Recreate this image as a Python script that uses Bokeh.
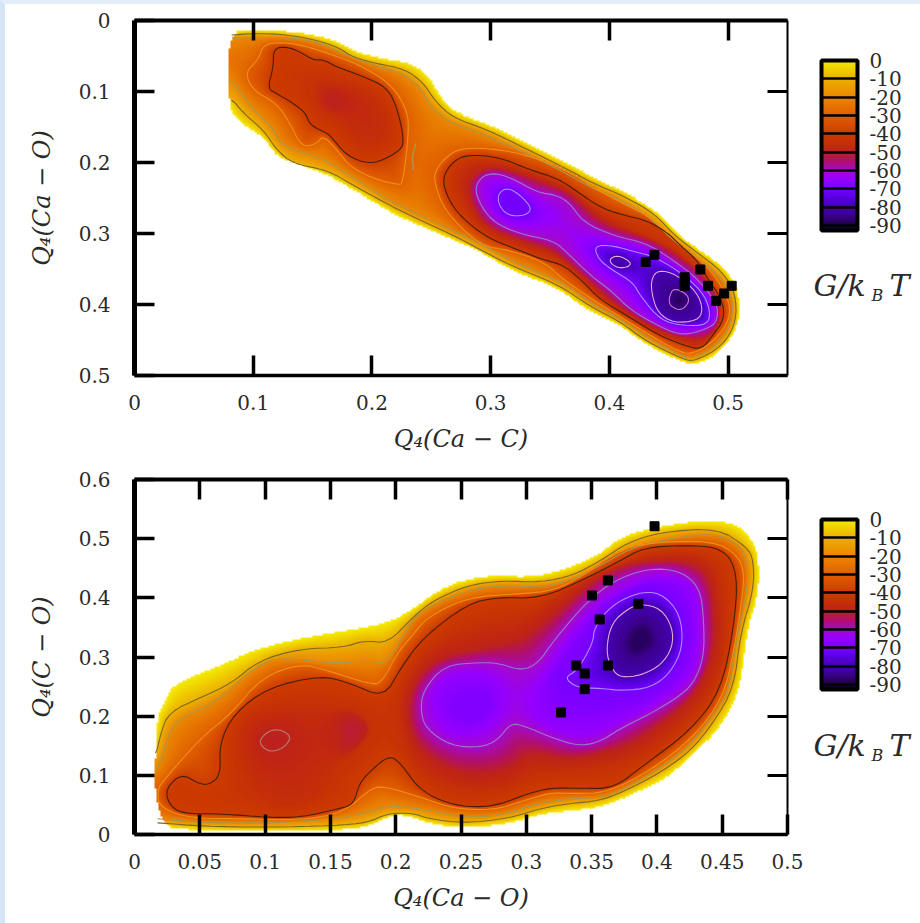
import numpy as np
from bokeh.embed import file_html
from bokeh.resources import INLINE
from bokeh.layouts import column
from bokeh.models import (AllLabels, ColorBar, FixedTicker, LinearAxis, LinearColorMapper, Range1d)
from bokeh.plotting import figure

# ---------- tick labels ----------
TOP_X_TICKS = [0, 0.1, 0.2, 0.3, 0.4, 0.5]
TOP_X_LABELS = ["0", "0.1", "0.2", "0.3", "0.4", "0.5"]
TOP_Y_TICKS = [0, 0.1, 0.2, 0.3, 0.4, 0.5]
TOP_Y_LABELS = ["0", "0.1", "0.2", "0.3", "0.4", "0.5"]
BOT_X_TICKS = [0, 0.05, 0.1, 0.15, 0.2, 0.25, 0.3, 0.35, 0.4, 0.45, 0.5]
BOT_X_LABELS = ["0", "0.05", "0.1", "0.15", "0.2", "0.25", "0.3", "0.35", "0.4", "0.45", "0.5"]
BOT_Y_TICKS = [0, 0.1, 0.2, 0.3, 0.4, 0.5, 0.6]
BOT_Y_LABELS = ["0", "0.1", "0.2", "0.3", "0.4", "0.5", "0.6"]
CB_TICKS = [0, -10, -20, -30, -40, -50, -60, -70, -80, -90]
CB_LABELS = ["0", "-10", "-20", "-30", "-40", "-50", "-60", "-70", "-80", "-90"]

# ---------- black squares ----------
TOP_SQ_X = [.4306, .4379, .4766, .4634, .4634, .4634, .4831, .503, .4966, .4898]
TOP_SQ_Y = [.340, .330, .3507, .3615, .3676, .3737, .3737, .3737, .3845, .3948]
BOT_SQ_X = [.3982, .3625, .3503, .3858, .3562, .3383, .3625, .3447, .3447, .3266]
BOT_SQ_Y = [.521, .4293, .4039, .3899, .3634, .2856, .2856, .2721, .2456, .2062]

# ---------- top panel contours (G/kBT levels) ----------
T0_X = [.079,.079,.100,.129,.154,.173,.188,.210,.235,.249,.260,.275,.300,.333,.367,.390,.415,.440,.457,.477,.498,.509,.510,.493,.472,.462,.429,.407,.381,.356,.317,.294,.266,.224,.205,.184,.163,.140,.120,.109,.089]
T0_Y = [.123,.017,.013,.015,.021,.031,.045,.054,.061,.080,.113,.134,.148,.176,.204,.225,.244,.268,.300,.324,.349,.380,.427,.469,.485,.482,.455,.427,.408,.376,.352,.328,.306,.277,.258,.239,.218,.204,.193,.165,.145]
T10_X = [.079,.100,.129,.154,.173,.184,.205,.227,.243,.253,.268,.296,.329,.363,.386,.413,.438,.455,.474,.494,.506,.507,.495,.472,.462,.431,.409,.384,.357,.318,.296,.268,.226,.205,.184,.163,.134,.120,.109,.092,.081,.060,.060]
T10_Y = [.021,.018,.020,.028,.039,.052,.061,.068,.087,.113,.137,.153,.180,.208,.229,.248,.272,.303,.327,.352,.382,.425,.459,.480,.477,.452,.424,.403,.372,.346,.327,.302,.270,.251,.232,.211,.202,.183,.155,.131,.108,.108,.021]
T20_X = [.079,.103,.134,.157,.179,.201,.224,.241,.249,.266,.291,.325,.359,.384,.411,.434,.451,.470,.490,.503,.504,.492,.472,.461,.433,.409,.385,.359,.321,.297,.268,.226,.205,.184,.157,.125,.115,.095,.079,.060,.060]
T20_Y = [.025,.024,.024,.032,.049,.063,.073,.094,.122,.144,.158,.183,.211,.235,.254,.277,.306,.330,.355,.384,.423,.456,.476,.473,.448,.420,.399,.367,.342,.319,.296,.263,.244,.221,.193,.179,.148,.117,.077,.077,.025]
T20_TONGUE_X = [.237, .234, .235]
T20_TONGUE_Y = [.173, .192, .211]
T30A_X = [.093,.104,.109,.129,.148,.168,.190,.216,.230,.231,.226,.222,.205,.182,.171,.159,.154,.141,.131,.120,.100]
T30A_Y = [.073,.056,.032,.031,.038,.049,.063,.089,.127,.159,.230,.231,.225,.207,.183,.162,.173,.179,.145,.117,.099]
T30B_X = [.253,.264,.275,.300,.333,.367,.390,.418,.435,.450,.468,.487,.500,.502,.488,.471,.460,.435,.403,.384,.359,.346,.317,.291,.262,.253]
T30B_Y = [.211,.190,.180,.180,.190,.214,.239,.263,.277,.303,.324,.355,.390,.420,.452,.469,.468,.444,.411,.391,.362,.341,.324,.317,.270,.232]
T40A_X = [.112,.117,.117,.129,.140,.151,.159,.171,.190,.213,.222,.227,.224,.205,.193,.179,.168,.163,.148,.144,.134,.120]
T40A_Y = [.096,.066,.039,.037,.045,.056,.055,.066,.077,.094,.127,.169,.183,.200,.200,.190,.169,.159,.148,.130,.117,.103]
T40B_X = [.259,.268,.280,.306,.331,.357,.373,.392,.409,.432,.449,.460,.474,.482,.495,.497,.487,.477,.462,.441,.415,.392,.376,.361,.344,.323,.297,.275,.264]
T40B_Y = [.222,.199,.189,.192,.209,.223,.241,.263,.273,.282,.299,.317,.338,.362,.393,.420,.444,.464,.457,.443,.416,.393,.365,.344,.337,.323,.306,.277,.251]
T45A_X = [.151,.168,.196,.214,.213,.196,.184,.171,.154]
T45A_Y = [.089,.085,.099,.131,.165,.179,.159,.137,.123]
T45B_X = [.270,.280,.306,.329,.356,.374,.393,.422,.449,.470,.488,.494,.485,.472,.468,.441,.416,.393,.373,.355,.323,.296,.279]
T45B_Y = [.225,.200,.199,.212,.228,.246,.272,.297,.315,.345,.395,.423,.447,.459,.456,.443,.417,.392,.358,.332,.317,.298,.267]
T50A_X = [.161,.169,.178,.173,.163]
T50A_Y = [.106,.103,.113,.124,.123]
T50B_X = [.280,.291,.306,.328,.357,.376,.395,.432,.457,.479,.493,.493,.483,.468,.443,.418,.395,.371,.352,.323,.294,.283]
T50B_Y = [.230,.211,.207,.218,.235,.254,.285,.305,.328,.356,.394,.427,.448,.449,.438,.414,.387,.349,.324,.308,.289,.256]
T60_X = [.300,.317,.339,.356,.367,.378,.403,.432,.454,.474,.491,.491,.483,.462,.443,.418,.401,.384,.365,.353,.323,.300,.287,.289]
T60_Y = [.214,.221,.242,.246,.258,.284,.303,.314,.338,.363,.399,.423,.434,.444,.432,.408,.380,.359,.328,.310,.300,.282,.246,.225]
T70A_X = [.306,.314,.325,.335,.329,.315,.307]
T70A_Y = [.244,.235,.246,.265,.275,.275,.261]
T70B_X = [.387,.403,.424,.435,.457,.478,.485,.483,.462,.443,.426,.420,.403,.391]
T70B_Y = [.317,.317,.327,.331,.351,.381,.408,.429,.430,.422,.388,.369,.352,.337]
T80A_X = [.399,.407,.419,.415,.405]
T80A_Y = [.337,.330,.341,.348,.348]
T80B_X = [.435,.441,.457,.474,.479,.474,.454,.441,.436]
T80B_Y = [.365,.351,.358,.383,.408,.423,.426,.412,.388]
T85_X = [.450,.454,.466,.467,.460,.451]
T85_Y = [.391,.376,.386,.398,.409,.402]

# ---------- bottom panel contours ----------
B0_X = [.016,.016,.023,.030,.061,.091,.127,.166,.194,.213,.229,.250,.275,.306,.332,.355,.370,.393,.433,.459,.472,.478,.478,.469,.464,.449,.428,.408,.382,.357,.336,.311,.288,.252,.225,.214,.199,.179,.153,.102,.051]
B0_Y = [.012,.188,.226,.255,.282,.311,.331,.345,.357,.379,.407,.429,.438,.434,.450,.472,.500,.517,.531,.527,.502,.468,.407,.345,.248,.181,.137,.096,.069,.046,.041,.035,.019,.010,.019,.029,.035,.012,.007,.005,.007]
B10_X = [.016,.020,.026,.051,.074,.095,.127,.160,.176,.194,.213,.229,.255,.280,.311,.336,.357,.378,.403,.446,.469,.474,.474,.464,.459,.443,.426,.405,.380,.357,.331,.311,.286,.252,.224,.214,.194,.179,.153,.102,.051,.018,.005,.005]
B10_Y = [.130,.170,.206,.232,.255,.294,.314,.316,.328,.323,.367,.396,.421,.429,.426,.438,.463,.494,.511,.518,.486,.463,.413,.340,.248,.188,.142,.108,.078,.057,.052,.044,.027,.019,.027,.036,.036,.020,.015,.012,.014,.020,.020,.130]
B20_X = [.016,.020,.030,.061,.095,.114,.153,.179,.194,.211,.224,.255,.280,.311,.334,.357,.380,.411,.446,.465,.470,.469,.461,.455,.446,.426,.400,.372,.357,.334,.307,.280,.250,.223,.198,.183,.160,.102,.051,.018,.005,.005]
B20_Y = [.105,.125,.193,.221,.289,.299,.289,.294,.289,.358,.384,.413,.421,.418,.429,.455,.484,.501,.509,.487,.451,.409,.328,.243,.210,.151,.108,.074,.062,.061,.051,.032,.029,.042,.049,.041,.027,.019,.020,.027,.027,.105]
B30_X = [.018,.020,.051,.074,.097,.127,.148,.179,.189,.201,.214,.224,.255,.296,.321,.344,.367,.390,.443,.462,.467,.465,.459,.451,.428,.395,.362,.336,.319,.298,.275,.244,.219,.189,.179,.160,.127,.076,.051,.030,.018]
B30_Y = [.074,.086,.164,.204,.265,.289,.277,.255,.255,.306,.340,.367,.401,.407,.412,.438,.475,.493,.497,.472,.441,.395,.311,.232,.164,.108,.071,.069,.071,.057,.041,.044,.063,.083,.074,.037,.024,.027,.027,.035,.052]
B40_X = [.024,.036,.049,.057,.066,.065,.076,.102,.143,.166,.191,.204,.221,.255,.278,.311,.347,.372,.390,.423,.451,.462,.459,.449,.426,.390,.367,.341,.319,.301,.278,.255,.234,.217,.204,.195,.181,.172,.168,.158,.127,.102,.066,.036,.026]
B40_Y = [.078,.103,.086,.084,.100,.154,.204,.248,.269,.255,.231,.282,.333,.390,.401,.399,.434,.463,.485,.489,.484,.441,.350,.243,.176,.117,.078,.078,.079,.069,.049,.046,.057,.079,.120,.134,.108,.086,.052,.044,.029,.029,.035,.035,.052]
B45A_X = [.080,.087,.117,.153,.173,.182,.168,.153,.148,.137,.114,.097,.084]
B45A_Y = [.159,.204,.221,.215,.210,.176,.137,.120,.091,.057,.046,.063,.108]
B45B_X = [.200,.209,.227,.260,.296,.330,.357,.395,.426,.446,.453,.450,.439,.416,.388,.357,.332,.303,.288,.269,.242,.212]
B45B_Y = [.210,.269,.316,.353,.362,.412,.446,.475,.477,.460,.362,.294,.235,.181,.134,.112,.108,.105,.083,.074,.079,.117]
B50A_X = [.094,.107,.121,.114,.102]
B50A_Y = [.159,.181,.167,.145,.139]
B50C_X = [.156,.173,.181,.168,.156]
B50C_Y = [.204,.201,.176,.142,.142]
B50B_X = [.208,.214,.232,.265,.296,.321,.347,.372,.397,.423,.441,.445,.443,.428,.405,.380,.357,.332,.303,.290,.270,.247,.217]
B50B_Y = [.204,.260,.299,.314,.328,.373,.424,.455,.463,.463,.441,.362,.299,.232,.188,.150,.137,.125,.139,.113,.100,.103,.142]
B60_X = [.219,.221,.237,.265,.280,.296,.309,.321,.347,.367,.393,.418,.433,.436,.436,.428,.416,.395,.372,.355,.339,.319,.298,.288,.278,.265,.242,.223]
B60_Y = [.210,.243,.286,.291,.289,.277,.289,.328,.395,.429,.450,.446,.417,.362,.299,.255,.232,.204,.179,.155,.150,.164,.184,.188,.159,.147,.150,.179]
B65A_X = [.228,.232,.247,.273,.284,.275,.252,.237]
B65A_Y = [.226,.255,.274,.274,.232,.188,.167,.181]
B65B_X = [.301,.307,.324,.349,.372,.395,.418,.430,.431,.430,.420,.395,.372,.349,.330,.311]
B65B_Y = [.218,.252,.303,.375,.412,.433,.433,.409,.353,.294,.255,.218,.193,.171,.172,.189]
B68A_X = [.242,.254,.269,.273,.264,.250]
B68A_Y = [.221,.243,.240,.218,.193,.193]
B68B_X = [.315,.330,.349,.368,.391,.411,.424,.426,.414,.395,.372,.349,.326]
B68B_Y = [.260,.303,.362,.404,.426,.421,.379,.311,.260,.232,.218,.206,.213]
B70_X = [.329,.339,.351,.352,.365,.385,.403,.418,.420,.410,.395,.374,.357,.339]
B70_Y = [.265,.277,.323,.350,.387,.409,.409,.373,.316,.272,.248,.243,.247,.248]
B80_X = [.361,.365,.378,.388,.403,.412,.412,.403,.388,.372,.365]
B80_Y = [.311,.357,.382,.390,.382,.350,.316,.286,.269,.265,.281]
B85_X = [.374,.380,.393,.400,.397,.384,.376]
B85_Y = [.324,.353,.362,.333,.311,.297,.306]

TOP_LEVELS = [
    (0, [(T0_X, T0_Y)]), (-10, [(T10_X, T10_Y)]), (-20, [(T20_X, T20_Y)]),
    (-30, [(T30A_X, T30A_Y), (T30B_X, T30B_Y)]), (-40, [(T40A_X, T40A_Y), (T40B_X, T40B_Y)]),
    (-45, [(T45A_X, T45A_Y), (T45B_X, T45B_Y)]), (-50, [(T50A_X, T50A_Y), (T50B_X, T50B_Y)]),
    (-60, [(T60_X, T60_Y)]), (-70, [(T70A_X, T70A_Y), (T70B_X, T70B_Y)]),
    (-80, [(T80A_X, T80A_Y), (T80B_X, T80B_Y)]), (-85, [(T85_X, T85_Y)]),
]
BOT_LEVELS = [
    (0, [(B0_X, B0_Y)]), (-10, [(B10_X, B10_Y)]), (-20, [(B20_X, B20_Y)]),
    (-30, [(B30_X, B30_Y)]), (-40, [(B40_X, B40_Y)]),
    (-45, [(B45A_X, B45A_Y), (B45B_X, B45B_Y)]),
    (-50, [(B50A_X, B50A_Y), (B50C_X, B50C_Y), (B50B_X, B50B_Y)]),
    (-60, [(B60_X, B60_Y)]), (-65, [(B65A_X, B65A_Y), (B65B_X, B65B_Y)]),
    (-68, [(B68A_X, B68A_Y), (B68B_X, B68B_Y)]), (-70, [(B70_X, B70_Y)]),
    (-80, [(B80_X, B80_Y)]), (-85, [(B85_X, B85_Y)]),
]
TOP_LINES = {-10: "#7a6a20", -20: "#a8984a", -30: "#f08f14", -40: "#4a1e08",
             -60: "#9a78c4", -70: "#a98cff", -80: "#e8a8d8", -85: "#c878c0"}
BOT_LINES = {-10: "#7a6a20", -20: "#a8984a", -30: "#f08f14", -40: "#4a1e08",
             -60: "#9a78c4", -70: "#a98cff", -80: "#e8a8d8"}

# colour scale stops: value, r, g, b
STOP_V = [-93, -90, -85, -80, -75, -70, -65, -60, -55, -50, -45, -40, -30, -20, -10, -5, 0]
STOP_R = [10, 30, 60, 70, 90, 120, 150, 165, 178, 190, 198, 205, 225, 235, 235, 240, 245]
STOP_G = [0, 0, 0, 0, 0, 0, 0, 10, 15, 35, 48, 60, 95, 135, 175, 205, 235]
STOP_B = [20, 70, 140, 180, 225, 255, 255, 200, 110, 25, 8, 0, 0, 0, 0, 0, 0]

vv = np.linspace(-93, 0, 256)
PALETTE = ["#%02x%02x%02x" % (int(r), int(g), int(b)) for r, g, b in zip(
    np.interp(vv, STOP_V, STOP_R), np.interp(vv, STOP_V, STOP_G), np.interp(vv, STOP_V, STOP_B))]
FONT = "DejaVu Serif"
INK = "#2a2a2a"


def rounded(xs, ys, rounds=2):
    a = np.column_stack([xs, ys]).astype(float)
    for _ in range(rounds):
        b = np.roll(a, -1, axis=0)
        a = np.column_stack([.75 * a + .25 * b, .25 * a + .75 * b]).reshape(-1, 2)
    return a[:, 0], a[:, 1]


def inside(X, Y, xs, ys):
    res = np.zeros(X.shape, bool)
    n = len(xs)
    for i in range(n):
        x1, y1, x2, y2 = xs[i], ys[i], xs[(i + 1) % n], ys[(i + 1) % n]
        if y1 == y2:
            continue
        c = (y1 > Y) != (y2 > Y)
        res ^= c & (X < x1 + (Y - y1) * (x2 - x1) / (y2 - y1))
    return res


def dist(X, Y, polys, sx, sy):
    d = np.full(X.shape, 1e12)
    XX, YY = X * sx, Y * sy
    for xs, ys in polys:
        n = len(xs)
        for i in range(n):
            ax, ay = xs[i] * sx, ys[i] * sy
            bx, by = xs[(i + 1) % n] * sx, ys[(i + 1) % n] * sy
            dx, dy = bx - ax, by - ay
            t = np.clip(((XX - ax) * dx + (YY - ay) * dy) / max(dx * dx + dy * dy, 1e-9), 0, 1)
            d = np.minimum(d, (XX - ax - t * dx) ** 2 + (YY - ay - t * dy) ** 2)
    return np.sqrt(d)


def field(levels, xmax, ymax, sx, sy, step=2):
    nx, ny = int(xmax * sx / step), int(ymax * sy / step)
    X, Y = np.meshgrid((np.arange(nx) + .5) * xmax / nx, (np.arange(ny) + .5) * ymax / ny)
    ins, dis = [], []
    for val, polys in levels:
        m = np.zeros(X.shape, bool)
        for xs, ys in polys:
            m |= inside(X, Y, xs, ys)
        ins.append(m)
        dis.append(dist(X, Y, polys, sx, sy))
    for i in range(len(ins) - 2, -1, -1):
        ins[i] = ins[i] | ins[i + 1]
    F = np.full(X.shape, np.nan, dtype=np.float32)
    for i in range(len(levels) - 1):
        m = ins[i] & ~ins[i + 1]
        a, b = levels[i][0], levels[i + 1][0]
        F[m] = (a + (b - a) * dis[i] / (dis[i] + dis[i + 1] + 1e-6))[m]
    m = ins[-1]
    F[m] = (levels[-1][0] - np.minimum(dis[-1] * .4, 3))[m]
    F[~inside(X, Y, *levels[0][1][0])] = np.nan
    return F


def panel(levels, line_cols, sq_x, sq_y, xmax, y_rng, xticks, xlabels, yticks, ylabels, xtitle, ytitle,
          h, top, bottom, gy, gby):
    p = figure(width=915, height=h, x_range=Range1d(0, xmax), y_range=Range1d(*y_rng),
               output_backend="svg", toolbar_location=None, min_border_left=129, min_border_right=133,
               min_border_top=top, min_border_bottom=bottom, outline_line_color=None,
               x_axis_label=xtitle, y_axis_label=ytitle)
    p.grid.visible = False
    ymax = max(y_rng)
    sx, sy = 653 / xmax, 355 / ymax
    xcut = min(levels[0][1][0][0])
    smooth = [(v, [rounded(a, b) for a, b in polys]) for v, polys in levels]
    F = field(smooth, xmax, ymax, sx, sy)
    mapper = LinearColorMapper(palette=PALETTE, low=-93, high=0, nan_color="rgba(0,0,0,0)")
    p.image(image=[F], x=0, y=0, dw=xmax, dh=ymax, color_mapper=mapper)
    for val, polys in smooth:
        if val not in line_cols:
            continue
        xs, ys = [], []
        for px, py in polys:
            ax = np.append(px, px[0])
            ay = np.append(py, py[0])
            ax[ax < xcut] = np.nan
            xs.append(ax.tolist()); ys.append(ay.tolist())
        p.multi_line(xs, ys, line_color=line_cols[val], line_width=1.1)
    p.scatter(sq_x, sq_y, marker="square", size=9, color="black")

    def style(ax, ticks, labels, show):
        ax.ticker = FixedTicker(ticks=ticks)
        ax.major_label_overrides = dict(zip(ticks, labels))
        ax.major_tick_in, ax.major_tick_out = 20, 0
        ax.minor_tick_line_color = None
        ax.major_tick_line_color = "black"
        ax.axis_line_color = "black"
        ax.major_label_text_font = FONT
        ax.major_label_text_color = INK if show else None
        ax.major_label_text_font_size = "20px" if show else "1px"
        ax.axis_label_text_font = FONT
        ax.axis_label_text_font_style = "italic"
        ax.axis_label_text_font_size = "24px"
        ax.axis_label_text_color = INK

    style(p.xaxis[0], xticks, xlabels, True)
    style(p.yaxis[0], yticks, ylabels, True)
    p.xaxis[0].major_label_standoff = 19
    p.yaxis[0].major_label_standoff = 24
    p.xaxis[0].axis_label_standoff = 12
    p.yaxis[0].axis_label_standoff = 20
    p.xaxis[0].axis_line_width = 3.5
    p.xaxis[0].major_tick_line_width = 3.5
    p.yaxis[0].axis_line_width = 5
    p.yaxis[0].major_tick_line_width = 3.5
    above = LinearAxis(); right = LinearAxis()
    style(above, xticks, xlabels, False); style(right, yticks, ylabels, False)
    above.axis_line_width = 4; above.major_tick_line_width = 3.5
    right.axis_line_width = 2; right.major_tick_line_width = 3
    above.major_label_standoff = 0; right.major_label_standoff = 0
    p.add_layout(above, "above"); p.add_layout(right, "right")

    # G/k_BT written as single-tick labels of invisible side axes
    for txt, yy, size, standoff in [("G/k", gy, "30px", 26), ("B", gby, "16px", 3), ("T", gy, "30px", 3)]:
        t = LinearAxis(ticker=FixedTicker(ticks=[yy]), major_label_overrides={yy: txt},
                       axis_line_color=None, major_tick_line_color=None, minor_tick_line_color=None,
                       major_tick_in=0, major_tick_out=0, major_label_standoff=standoff,
                       major_label_policy=AllLabels(), major_label_text_font=FONT,
                       major_label_text_font_style="italic", major_label_text_font_size=size,
                       major_label_text_color=INK)
        p.add_layout(t, "right")

    cb_map = LinearColorMapper(palette=PALETTE, low=-92.7, high=0)
    cb = ColorBar(color_mapper=cb_map, ticker=FixedTicker(ticks=CB_TICKS), width=36, height=170,
                  location=(687, 145), padding=0, margin=0, background_fill_alpha=0, border_line_color=None,
                  bar_line_color="black", bar_line_width=4, major_tick_line_color="black",
                  major_tick_line_width=2.5, major_tick_in=36, minor_tick_line_color=None,
                  major_label_policy=AllLabels(), major_label_overrides=dict(zip(CB_TICKS, CB_LABELS)),
                  label_standoff=12, major_label_text_font=FONT, major_label_text_font_size="20px",
                  major_label_text_color=INK)
    p.add_layout(cb, "center")
    return p


p1 = panel(TOP_LEVELS, TOP_LINES, TOP_SQ_X, TOP_SQ_Y, 0.55, (0.5, 0), TOP_X_TICKS, TOP_X_LABELS,
           TOP_Y_TICKS, TOP_Y_LABELS, "Q₄(Ca − C)", "Q₄(Ca − O)", 462, 16, 91, .373, .387)
p2 = panel(BOT_LEVELS, BOT_LINES, BOT_SQ_X, BOT_SQ_Y, 0.5, (0, 0.6), BOT_X_TICKS, BOT_X_LABELS,
           BOT_Y_TICKS, BOT_Y_LABELS, "Q₄(Ca − O)", "Q₄(C − O)", 457, 13, 89, .150, .1335)
sx, sy = rounded(B50A_X, B50A_Y)
p2.multi_line([np.append(sx, sx[0]).tolist()], [np.append(sy, sy[0]).tolist()], line_color="#b87a78", line_width=1.1)
p1.line(T20_TONGUE_X, T20_TONGUE_Y, line_color=TOP_LINES[-20], line_width=1.5)

page = column(p1, p2, spacing=0, styles={"border-left": "5px solid #d6e5f5", "border-top": "4px solid #e3edf7"})
open("out.html", "w").write(file_html(page, INLINE))
